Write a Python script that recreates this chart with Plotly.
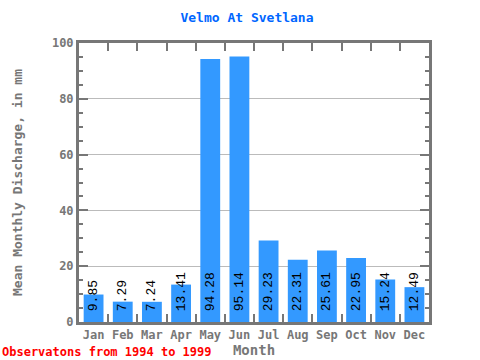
import plotly.graph_objects as go

months = ["Jan", "Feb", "Mar", "Apr", "May", "Jun", "Jul", "Aug", "Sep", "Oct", "Nov", "Dec"]
discharge = [9.85, 7.29, 7.24, 13.41, 94.28, 95.14, 29.23, 22.31, 25.61, 22.95, 15.24, 12.49]
labels = ["\u00a0" + f"{v:.2f}" for v in discharge]

title_text = "Velmo At Svetlana"
y_title = "Mean Monthly Discharge, in mm"
x_title = "Month"
footnote = "Observatons from 1994 to 1999"

fig = go.Figure()
fig.add_trace(go.Bar(
    x=months, y=discharge, text=labels,
    textposition="inside", insidetextanchor="start", textangle=-90,
    constraintext="none",
    textfont=dict(family="Liberation Mono", size=13, color="black"),
    marker=dict(color="#3399ff", line=dict(width=0)),
    width=0.68, hoverinfo="skip",
))

axis_font = dict(family="DejaVu Sans Mono", size=12, color="#777777", weight="bold")

fig.update_layout(
    width=480, height=360,
    margin=dict(l=79, r=51, t=43, b=38),
    paper_bgcolor="white", plot_bgcolor="white",
    showlegend=False,
    title=dict(text=f"<b>{title_text}</b>", x=247/480, xanchor="center",
               y=1-17/360, yanchor="middle", yref="container", xref="container",
               font=dict(family="DejaVu Sans Mono", size=13, color="#0066ff")),
    xaxis=dict(
        type="category", tickson="boundaries", ticks="inside", ticklen=8,
        tickwidth=2, tickcolor="#777777", tickangle=0, automargin=False,
        showline=True, linecolor="#777777", linewidth=3, mirror="allticks",
        showgrid=False, tickfont=axis_font,
        title=dict(text=f"<b>{x_title}</b>", standoff=2,
                   font=dict(family="DejaVu Sans Mono", size=14, color="#777777")),
    ),
    yaxis=dict(
        range=[0, 100], dtick=20, ticks="inside", ticklen=9, tickwidth=2,
        tickcolor="#777777", automargin=False,
        showline=True, linecolor="#777777", linewidth=3, mirror="allticks",
        showgrid=True, gridcolor="#bbbbbb", gridwidth=1, zeroline=False,
        minor=dict(dtick=5, ticks="inside", ticklen=4, tickwidth=2, tickcolor="#777777", showgrid=False),
        tickfont=axis_font,
        title=dict(text=f"<b>{y_title}</b>", standoff=27,
                   font=dict(family="DejaVu Sans Mono", size=13, color="#777777")),
    ),
    annotations=[dict(text=f"<b>{footnote}</b>", xref="paper", yref="paper",
                      x=-79/350, y=-30/279, xanchor="left", yanchor="middle",
                      showarrow=False,
                      font=dict(family="DejaVu Sans Mono", size=12, color="#ff0000"))],
)

fig.write_html("out.html", config={"displayModeBar": False},
               post_script="document.body.style.margin='0px';")
